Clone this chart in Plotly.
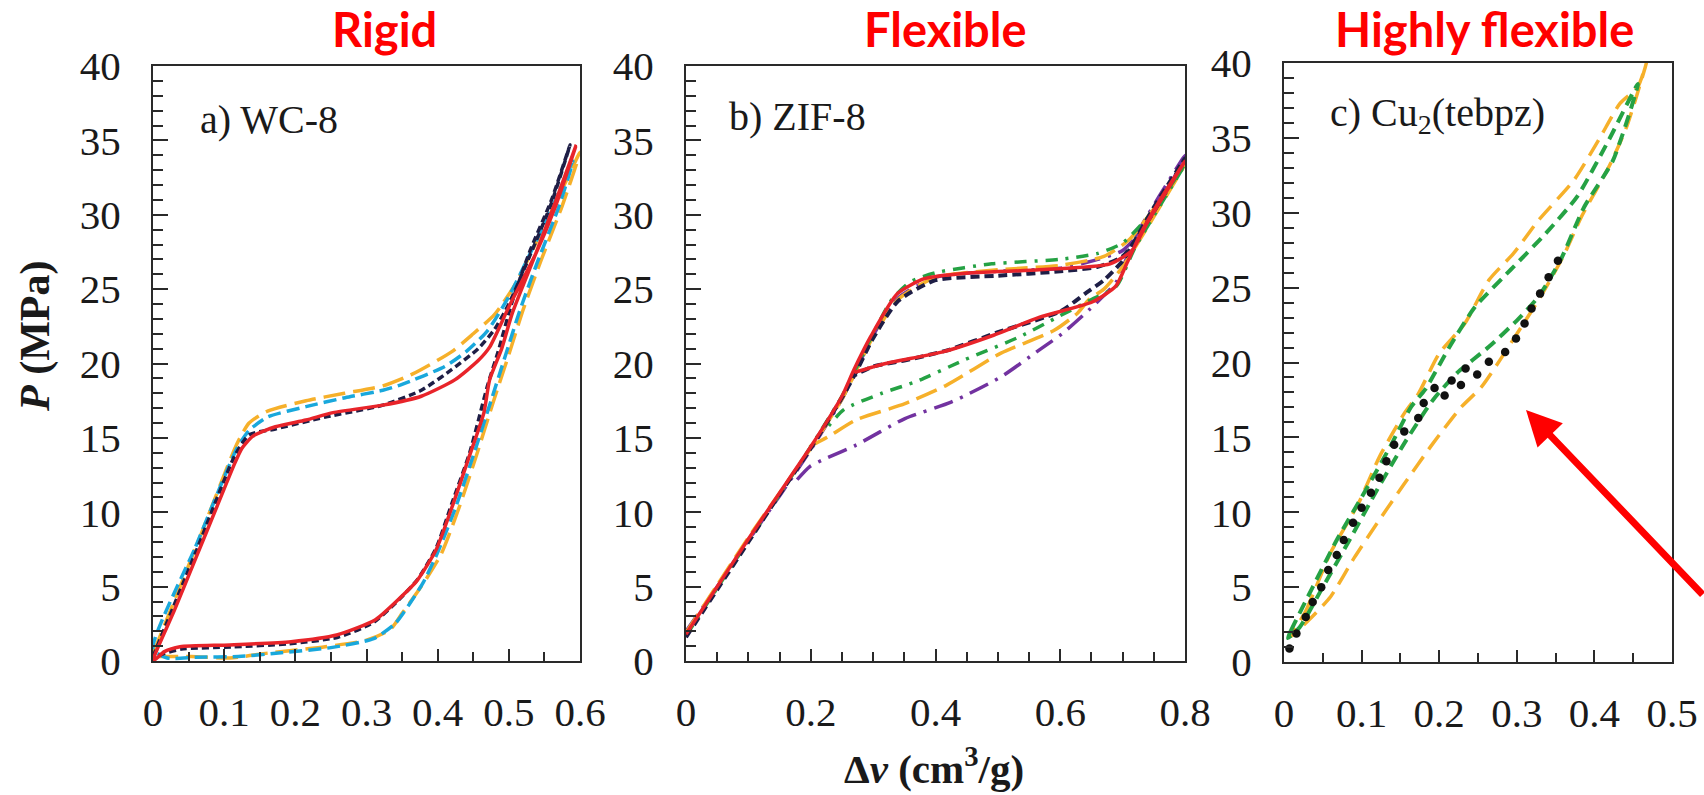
import plotly.graph_objects as go

W, H = 1704, 795

# ---------------- Panel a) WC-8 ----------------
a_red_x = [0, 0.03, 0.06, 0.09, 0.115, 0.125, 0.14, 0.172, 0.215, 0.253, 0.323, 0.377, 0.424, 0.457, 0.473, 0.5, 0.538, 0.565, 0.594,
           0.565, 0.538, 0.505, 0.49, 0.473, 0.465, 0.444, 0.422, 0.398, 0.371, 0.344, 0.312, 0.258, 0.194, 0.108, 0.038, 0.016, 0]
a_red_y = [0, 3.4, 6.9, 10.4, 13.3, 14.3, 15.1, 15.75, 16.2, 16.7, 17.2, 17.8, 18.9, 20.2, 21.1, 23.8, 27.4, 30.5, 34.6,
           30.8, 27.4, 23.4, 21.0, 18.9, 16.7, 13.7, 10.6, 7.5, 5.4, 4.1, 2.76, 1.75, 1.3, 1.08, 0.96, 0.63, 0]

a_navy_x = [0, 0.06, 0.115, 0.135, 0.172, 0.242, 0.323, 0.377, 0.42, 0.457, 0.48, 0.5, 0.53, 0.56, 0.586,
            0.56, 0.53, 0.505, 0.485, 0.47, 0.445, 0.42, 0.398, 0.372, 0.345, 0.31, 0.26, 0.19, 0.11, 0.04, 0.015, 0]
a_navy_y = [0.3, 7.3, 13.8, 15.2, 15.6, 16.4, 17.2, 18.2, 19.6, 21.0, 22.3, 24.0, 27.3, 30.8, 34.7,
            31.0, 27.6, 24.2, 20.8, 18.5, 14.0, 10.6, 7.6, 5.5, 4.1, 2.6, 1.6, 1.15, 0.95, 0.8, 0.5, 0.2]

a_cyan_x = [0, 0.06, 0.118, 0.135, 0.161, 0.215, 0.27, 0.323, 0.35, 0.41, 0.44, 0.47, 0.5, 0.53, 0.56, 0.59,
            0.57, 0.54, 0.515, 0.495, 0.475, 0.45, 0.425, 0.4, 0.38, 0.36, 0.34, 0.31, 0.25, 0.18, 0.12, 0.06, 0.02, 0]
a_cyan_y = [0.8, 7.7, 14.3, 15.5, 16.4, 17.1, 17.7, 18.2, 18.6, 19.8, 20.8, 22.2, 24.5, 27.4, 30.4, 33.6,
            30.5, 26.8, 23.5, 20.5, 17.5, 13.8, 10.3, 7.3, 5.3, 3.8, 2.5, 1.5, 0.9, 0.55, 0.3, 0.25, 0.2, 0.8]

a_orange_x = [0, 0.06, 0.118, 0.135, 0.161, 0.215, 0.269, 0.323, 0.365, 0.42, 0.45, 0.48, 0.51, 0.54, 0.57, 0.6,
              0.575, 0.545, 0.52, 0.5, 0.478, 0.455, 0.43, 0.405, 0.385, 0.371, 0.35, 0.333, 0.3, 0.242, 0.161, 0.108, 0.054, 0.007]
a_orange_y = [0.5, 7.6, 14.6, 16.0, 16.8, 17.5, 18.0, 18.5, 19.3, 20.8, 22.0, 23.3, 25.4, 28.3, 31.2, 34.2,
              30.6, 26.9, 23.6, 20.6, 17.4, 13.9, 10.3, 7.2, 5.6, 4.6, 3.2, 2.1, 1.4, 0.96, 0.53, 0.2, 0.3, 0.3]

# ---------------- Panel b) ZIF-8 ----------------
b_red_x = [0, 0.05, 0.1, 0.15, 0.2, 0.25, 0.269, 0.296, 0.339, 0.382, 0.444, 0.566, 0.68, 0.715, 0.74, 0.8,
           0.76, 0.729, 0.707, 0.689, 0.652, 0.566, 0.493, 0.413, 0.32, 0.27]
b_red_y = [1.8, 5.0, 8.2, 11.3, 14.4, 17.8, 19.56, 21.8, 24.7, 25.7, 26.05, 26.3, 26.7, 27.6, 29.5, 33.6,
           31.0, 28.75, 26.75, 25.2, 24.15, 23.1, 21.9, 20.8, 20.0, 19.4]

b_navy_x = [0, 0.05, 0.1, 0.15, 0.2, 0.25, 0.27, 0.3, 0.34, 0.4, 0.5, 0.6, 0.66, 0.7, 0.75, 0.8,
            0.75, 0.72, 0.7, 0.67, 0.64, 0.6, 0.5, 0.42, 0.35, 0.3, 0.27]
b_navy_y = [1.6, 4.8, 8.0, 11.2, 14.3, 17.7, 19.2, 21.7, 24.2, 25.6, 25.9, 26.2, 26.5, 27.2, 30.2, 33.8,
            30.5, 28.3, 26.9, 25.6, 24.7, 23.5, 22.1, 20.9, 20.2, 19.8, 19.2]

b_green_x = [0, 0.05, 0.1, 0.15, 0.2, 0.25, 0.3, 0.33, 0.36, 0.4, 0.49, 0.6, 0.66, 0.7, 0.75, 0.8,
             0.72, 0.69, 0.65, 0.597, 0.535, 0.444, 0.37, 0.314, 0.253, 0.223]
b_green_y = [1.7, 4.9, 8.1, 11.2, 14.4, 17.8, 22.0, 24.3, 25.5, 26.1, 26.7, 27.0, 27.4, 28.1, 30.3, 33.4,
             27.8, 25.2, 24.3, 23.15, 21.8, 20.2, 18.8, 18.0, 16.9, 15.5]

b_orange_x = [0, 0.05, 0.1, 0.15, 0.2, 0.25, 0.3, 0.34, 0.4, 0.5, 0.6, 0.67, 0.71, 0.75, 0.8,
              0.7, 0.67, 0.646, 0.628, 0.591, 0.505, 0.418, 0.351, 0.272, 0.229, 0.198]
b_orange_y = [1.9, 5.1, 8.3, 11.3, 14.3, 17.6, 21.8, 24.3, 25.8, 26.3, 26.6, 27.2, 28.3, 30.4, 33.4,
              26.5, 25.0, 24.3, 23.4, 22.25, 20.7, 18.55, 17.3, 16.2, 15.1, 14.4]

b_purple_x = [0, 0.05, 0.1, 0.15, 0.2, 0.25, 0.3, 0.34, 0.4, 0.5, 0.6, 0.66, 0.7, 0.75, 0.8,
              0.72, 0.69, 0.646, 0.603, 0.566, 0.505, 0.425, 0.351, 0.272, 0.223, 0.198, 0.17]
b_purple_y = [2.0, 5.0, 8.1, 11.1, 14.2, 17.6, 21.9, 24.4, 25.8, 26.2, 26.4, 27.0, 27.6, 30.0, 34.0,
              28.5, 25.5, 23.6, 22.0, 20.9, 19.1, 17.4, 16.3, 14.5, 13.6, 13.05, 11.8]

# ---------------- Panel c) Cu2(tebpz) ----------------
c_orange_x = [0.009, 0.028, 0.06, 0.096, 0.123, 0.155, 0.173, 0.2, 0.233, 0.264, 0.296, 0.328, 0.374, 0.406, 0.433, 0.456, 0.467,
              0.442, 0.419, 0.383, 0.36, 0.333, 0.30, 0.255, 0.228, 0.192, 0.155, 0.123, 0.091, 0.06, 0.032, 0.009]
c_orange_y = [1.7, 3.4, 7.3, 10.6, 13.7, 16.6, 17.9, 20.6, 22.6, 25.5, 27.3, 29.5, 32.2, 34.9, 37.3, 38.4, 40.0,
              35.8, 33.1, 29.7, 27.1, 24.6, 21.9, 18.4, 17.0, 14.6, 11.9, 9.5, 7.0, 4.36, 2.8, 1.7]

c_green_x = [0.005, 0.009, 0.037, 0.068, 0.1, 0.137, 0.164, 0.182, 0.214, 0.246, 0.296, 0.337, 0.378, 0.419, 0.456,
             0.424, 0.387, 0.356, 0.328, 0.30, 0.264, 0.223, 0.192, 0.155, 0.12, 0.085, 0.05, 0.02, 0.005]
c_green_y = [1.6, 2.1, 5.0, 8.15, 11.0, 14.4, 17.05, 18.2, 21.1, 23.7, 26.4, 28.6, 31.1, 34.9, 38.6,
             33.5, 30.4, 26.8, 24.4, 22.8, 21.05, 19.3, 17.5, 14.6, 11.5, 8.2, 5.0, 2.3, 1.6]

c_black_x = [0.007, 0.016, 0.028, 0.037, 0.048, 0.057, 0.068, 0.077, 0.089, 0.1, 0.112, 0.123, 0.132, 0.142, 0.155,
             0.173, 0.18, 0.194, 0.207, 0.216, 0.228, 0.234, 0.249, 0.264, 0.285, 0.299, 0.31, 0.319, 0.33, 0.341, 0.353]
c_black_y = [0.9, 1.9, 3.0, 4.0, 5.0, 6.15, 7.15, 8.15, 9.3, 10.3, 11.3, 12.3, 13.4, 14.5, 15.4,
             16.3, 17.3, 18.3, 17.8, 18.8, 18.5, 19.6, 19.2, 20.05, 20.7, 21.6, 22.6, 23.6, 24.6, 25.7, 26.8]

# ---------------- Axis ticks / labels ----------------
y_tickvals = [0, 5, 10, 15, 20, 25, 30, 35, 40]
y_ticktext = ["0", "5", "10", "15", "20", "25", "30", "35", "40"]
a_tickvals = [0, 0.1, 0.2, 0.3, 0.4, 0.5, 0.6]
a_ticktext = ["0", "0.1", "0.2", "0.3", "0.4", "0.5", "0.6"]
b_tickvals = [0, 0.2, 0.4, 0.6, 0.8]
b_ticktext = ["0", "0.2", "0.4", "0.6", "0.8"]
c_tickvals = [0, 0.1, 0.2, 0.3, 0.4, 0.5]
c_ticktext = ["0", "0.1", "0.2", "0.3", "0.4", "0.5"]

panel_titles = ["Rigid", "Flexible", "Highly flexible"]
panel_labels = ["a) WC-8", "b) ZIF-8", "c) Cu<sub>2</sub>(tebpz)"]

RED = "#e8242a"
NAVY = "#1e1e46"
CYAN = "#19a8dc"
ORANGE = "#f6b02a"
GREEN = "#25a244"
PURPLE = "#7232a0"

fig = go.Figure()


def add(x, y, color, dash, width, xa, ya, spline=True):
    fig.add_trace(go.Scatter(
        x=x, y=y, mode="lines", xaxis=xa, yaxis=ya,
        line=dict(color=color, dash=dash, width=width,
                  shape="spline" if spline else "linear", smoothing=0.6),
        showlegend=False, hoverinfo="skip"))


# panel a
add(a_orange_x, a_orange_y, ORANGE, "22px,8px", 3.5, "x", "y")
add(a_cyan_x, a_cyan_y, CYAN, "13px,6px", 3.5, "x", "y")
add(a_navy_x, a_navy_y, NAVY, "7px,4px", 3.5, "x", "y")
add(a_red_x, a_red_y, RED, "solid", 3.5, "x", "y")

# panel b
add(b_purple_x, b_purple_y, PURPLE, "20px,8px,3px,8px", 3.5, "x2", "y2")
add(b_orange_x, b_orange_y, ORANGE, "22px,8px", 3.5, "x2", "y2")
add(b_green_x, b_green_y, GREEN, "12px,8px,3px,8px", 3.5, "x2", "y2")
add(b_navy_x, b_navy_y, NAVY, "9px,5px", 4, "x2", "y2")
add(b_red_x, b_red_y, RED, "solid", 3.5, "x2", "y2")

# panel c
add(c_orange_x, c_orange_y, ORANGE, "18px,9px", 3.5, "x3", "y3")
add(c_green_x, c_green_y, GREEN, "12px,7px", 4, "x3", "y3")
fig.add_trace(go.Scatter(x=c_black_x, y=c_black_y, mode="markers", xaxis="x3", yaxis="y3",
                         marker=dict(color="#111111", size=8.5), showlegend=False, hoverinfo="skip"))

# ---------------- Layout ----------------
def px_x(p):
    return p / W


def px_y(p):
    return 1 - p / H


TICKFONT = dict(family="Liberation Serif", size=41, color="#1a1a1a")
AXCOL = "#2a2a2a"


def xaxis_cfg(dom, rng, tv, tt, minor_step, ylink):
    n = int(round(rng[1] / minor_step))
    return dict(domain=dom, range=rng, tickmode="array", tickvals=tv, ticktext=tt,
                ticks="inside", ticklen=12, tickwidth=2, tickcolor=AXCOL,
                showline=True, linecolor=AXCOL, linewidth=2, mirror=True,
                showgrid=False, zeroline=False, tickfont=TICKFONT, anchor=ylink,
                ticklabelstandoff=14, automargin=False,
                minor=dict(tickmode="array", tickvals=[i * minor_step for i in range(n + 1)],
                           ticks="inside", ticklen=9, tickwidth=2, tickcolor=AXCOL, showgrid=False))


def yaxis_cfg(dom, xlink):
    return dict(domain=dom, range=[0, 40], tickmode="array", tickvals=y_tickvals, ticktext=y_ticktext,
                ticks="inside", ticklen=15, tickwidth=2, tickcolor=AXCOL,
                showline=True, linecolor=AXCOL, linewidth=2, mirror=True,
                showgrid=False, zeroline=False, tickfont=TICKFONT, anchor=xlink,
                ticklabelstandoff=22, automargin=False,
                minor=dict(tickmode="array", tickvals=list(range(41)),
                           ticks="inside", ticklen=10, tickwidth=2, tickcolor=AXCOL, showgrid=False))


dom_a = [px_x(153), px_x(580)]
dom_b = [px_x(686), px_x(1185)]
dom_c = [px_x(1284), px_x(1672)]
ydom_ab = [px_y(661), px_y(66)]
ydom_c = [px_y(662), px_y(63)]

fig.update_layout(
    width=W, height=H, margin=dict(l=0, r=0, t=0, b=0, pad=0, autoexpand=False),
    paper_bgcolor="white", plot_bgcolor="white",
    xaxis=xaxis_cfg(dom_a, [0, 0.6], a_tickvals, a_ticktext, 0.05, "y"),
    xaxis2=xaxis_cfg(dom_b, [0, 0.8], b_tickvals, b_ticktext, 0.05, "y2"),
    xaxis3=xaxis_cfg(dom_c, [0, 0.5], c_tickvals, c_ticktext, 0.05, "y3"),
    yaxis=yaxis_cfg(ydom_ab, "x"),
    yaxis2=yaxis_cfg(ydom_ab, "x2"),
    yaxis3=yaxis_cfg(ydom_c, "x3"),
)

ann = []
# panel titles
title_pos = [(384, 29), (945, 29), (1484, 29)]
for t, (px, py) in zip(panel_titles, title_pos):
    ann.append(dict(text="<b>%s</b>" % t, x=px_x(px), y=px_y(py), xref="paper", yref="paper",
                    xanchor="center", yanchor="middle", showarrow=False,
                    font=dict(family="Lato", size=47, color="#ff0000")))
# panel labels
label_pos = [(198, 120), (727, 117), (1328, 115)]
for t, (px, py) in zip(panel_labels, label_pos):
    ann.append(dict(text=t, x=px_x(px), y=px_y(py), xref="paper", yref="paper",
                    xanchor="left", yanchor="middle", showarrow=False,
                    font=dict(family="Liberation Serif", size=40, color="#1a1a1a")))
# axis titles
ann.append(dict(text="<b><i>P</i> (MPa)</b>", x=px_x(35), y=px_y(337), xref="paper", yref="paper",
                textangle=-90, showarrow=False, xanchor="center", yanchor="middle",
                font=dict(family="Liberation Serif", size=42, color="#1a1a1a")))
ann.append(dict(text="<b>Δ<i>v</i> (cm<sup>3</sup>/g)</b>", x=px_x(934), y=px_y(794), xref="paper", yref="paper",
                showarrow=False, xanchor="center", yanchor="bottom",
                font=dict(family="Liberation Serif", size=41, color="#1a1a1a")))
# red arrow (tail kept on the canvas, at its right edge)
ann.append(dict(text="", x=px_x(1526), y=px_y(410), xref="paper", yref="paper",
                showarrow=True, arrowhead=2, arrowsize=1, arrowwidth=7, arrowcolor="#ff0000",
                ax=178, ay=186, axref="pixel", ayref="pixel"))
fig.update_layout(annotations=ann)

fig.write_html("out.html")
